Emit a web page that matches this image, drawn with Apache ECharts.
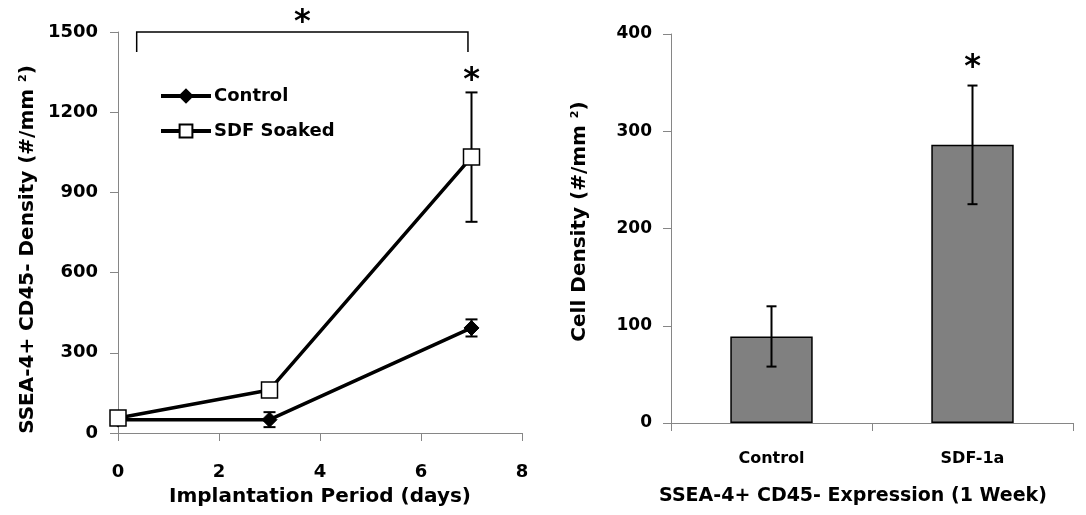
<!DOCTYPE html>
<html>
<head>
<meta charset="utf-8">
<script src="https://cdn.jsdelivr.net/npm/echarts@6/dist/echarts.min.js"></script>
<style>
  html, body { margin: 0; padding: 0; background: #fff; }
  #chart { width: 1086px; height: 515px; }
</style>
</head>
<body>
<div id="chart"></div>
<script>
// Time course: SSEA-4+ CD45- cell density by implantation period
const days = [0, 3, 7];
const controlMean = [50, 50, 393];
const controlErr = [15, 28, 32];
const sdfMean = [56, 161, 1032];
const sdfErr = [10, 12, 242];

// Significance bracket spanning the time course (x from/to, y low/high)
const bracketX = [0.37, 6.93];
const bracketY = [1425, 1500];

// One-week comparison
const groups = ['Control', 'SDF-1a'];
const weekMean = [89, 286];
const weekErr = [31, 61];

const FONT = 'DejaVu Sans';
const AXIS_GRAY = '#868686';

function errorBars(capHalf, lineWidth) {
  return function (params, api) {
    const x = api.value(0), mean = api.value(1), err = api.value(2);
    const top = api.coord([x, mean + err]);
    const bot = api.coord([x, mean - err]);
    const style = { stroke: '#000', lineWidth: lineWidth };
    return {
      type: 'group',
      children: [
        { type: 'line', shape: { x1: top[0], y1: top[1], x2: bot[0], y2: bot[1] }, style: style },
        { type: 'line', shape: { x1: top[0] - capHalf, y1: top[1], x2: top[0] + capHalf, y2: top[1] }, style: style },
        { type: 'line', shape: { x1: bot[0] - capHalf, y1: bot[1], x2: bot[0] + capHalf, y2: bot[1] }, style: style }
      ]
    };
  };
}

function starMark(offsetY) {
  return function (params, api) {
    const p = api.coord([api.value(0), api.value(1)]);
    return {
      type: 'text',
      x: p[0],
      y: p[1] + offsetY,
      style: {
        text: '*', fill: '#000', fontFamily: FONT, fontWeight: 'bold', fontSize: 32,
        align: 'center', verticalAlign: 'middle'
      }
    };
  };
}

const plain = (v) => String(v);
const tickLabel = (size) => ({ color: '#000', fontFamily: FONT, fontWeight: 'bold', fontSize: size, formatter: plain });
const axisTitle = (size) => ({
  color: '#000', fontFamily: FONT, fontWeight: 'bold', fontSize: size,
  rich: { sup: { color: '#000', fontFamily: FONT, fontWeight: 'bold', fontSize: 11, verticalAlign: 'top' } }
});

const chart = echarts.init(document.getElementById('chart'), null, { renderer: 'canvas' });

chart.setOption({
  animation: false,
  backgroundColor: '#fff',
  grid: [
    { left: 118, top: 32, width: 404, height: 401 },
    { left: 671, top: 34, width: 402, height: 389 }
  ],
  legend: {
    left: 159, top: 87, padding: 0, orient: 'vertical', itemGap: 17,
    itemWidth: 50, itemHeight: 16,
    data: ['Control', 'SDF Soaked'],
    lineStyle: { width: 4 },
    textStyle: { color: '#000', fontFamily: FONT, fontWeight: 'bold', fontSize: 18, padding: [0, 0, 0, -2] }
  },
  xAxis: [
    {
      type: 'value', gridIndex: 0, min: 0, max: 8, interval: 2,
      axisLine: { show: true, lineStyle: { color: AXIS_GRAY, width: 1 } },
      axisTick: { show: true, length: 8, lineStyle: { color: AXIS_GRAY } },
      axisLabel: Object.assign(tickLabel(18), { margin: 30 }),
      splitLine: { show: false },
      name: 'Implantation Period (days)', nameLocation: 'middle', nameGap: 54,
      nameTextStyle: axisTitle(20)
    },
    {
      type: 'category', gridIndex: 1, data: groups,
      axisLine: { show: true, lineStyle: { color: AXIS_GRAY, width: 1 } },
      axisTick: { show: true, length: 8, lineStyle: { color: AXIS_GRAY } },
      axisLabel: { margin: 28, color: '#000', fontFamily: FONT, fontWeight: 'bold', fontSize: 16 },
      name: 'SSEA-4+ CD45- Expression (1 Week)', nameLocation: 'middle', nameGap: 64,
      nameTextStyle: Object.assign(axisTitle(19), { padding: [0, 38, 0, 0] })
    }
  ],
  yAxis: [
    {
      type: 'value', gridIndex: 0, min: 0, max: 1500, interval: 300,
      axisLine: { show: true, lineStyle: { color: AXIS_GRAY, width: 1 } },
      axisTick: { show: true, length: 8, lineStyle: { color: AXIS_GRAY } },
      axisLabel: Object.assign(tickLabel(18), { margin: 20 }),
      splitLine: { show: false },
      name: 'SSEA-4+ CD45- Density (#/mm {sup|2})', nameLocation: 'middle', nameGap: 80,
      nameTextStyle: Object.assign(axisTitle(20), { padding: [0, 34, 0, 0] })
    },
    {
      type: 'value', gridIndex: 1, min: 0, max: 400, interval: 100,
      axisLine: { show: true, lineStyle: { color: AXIS_GRAY, width: 1 } },
      axisTick: { show: true, length: 8, lineStyle: { color: AXIS_GRAY } },
      axisLabel: Object.assign(tickLabel(17), { margin: 19 }),
      splitLine: { show: false },
      name: 'Cell Density (#/mm {sup|2})', nameLocation: 'middle', nameGap: 81,
      nameTextStyle: Object.assign(axisTitle(20), { padding: [0, 0, 0, 14] })
    }
  ],
  series: [
    {
      type: 'custom', name: 'controlErr', xAxisIndex: 0, yAxisIndex: 0, z: 1,
      renderItem: errorBars(6, 2),
      data: days.map((d, i) => [d, controlMean[i], controlErr[i]])
    },
    {
      type: 'custom', name: 'sdfErr', xAxisIndex: 0, yAxisIndex: 0, z: 1,
      renderItem: errorBars(6, 2),
      data: days.map((d, i) => [d, sdfMean[i], sdfErr[i]])
    },
    {
      type: 'line', name: 'Control', xAxisIndex: 0, yAxisIndex: 0, z: 3,
      data: days.map((d, i) => [d, controlMean[i]]),
      symbol: 'diamond', symbolSize: 15,
      lineStyle: { color: '#000', width: 3.5 },
      itemStyle: { color: '#000', borderColor: '#000', borderWidth: 1 }
    },
    {
      type: 'line', name: 'SDF Soaked', xAxisIndex: 0, yAxisIndex: 0, z: 4,
      data: days.map((d, i) => [d, sdfMean[i]]),
      symbol: 'rect', symbolSize: 16,
      lineStyle: { color: '#000', width: 3.5 },
      itemStyle: { color: '#fff', borderColor: '#000', borderWidth: 1.5 }
    },
    {
      type: 'custom', name: 'bracket', xAxisIndex: 0, yAxisIndex: 0, z: 2,
      renderItem: function (params, api) {
        const a = api.coord([api.value(0), api.value(2)]);
        const b = api.coord([api.value(0), api.value(3)]);
        const c = api.coord([api.value(1), api.value(3)]);
        const d = api.coord([api.value(1), api.value(2)]);
        return {
          type: 'polyline',
          shape: { points: [a, b, c, d] },
          style: { stroke: '#000', lineWidth: 1.5, fill: null }
        };
      },
      data: [[bracketX[0], bracketX[1], bracketY[0], bracketY[1]]]
    },
    {
      type: 'custom', name: 'starTop', xAxisIndex: 0, yAxisIndex: 0, z: 5,
      renderItem: starMark(-9),
      data: [[(bracketX[0] + bracketX[1]) / 2, bracketY[1]]]
    },
    {
      type: 'custom', name: 'starDay7', xAxisIndex: 0, yAxisIndex: 0, z: 5,
      renderItem: starMark(-12),
      data: [[days[2], sdfMean[2] + sdfErr[2]]]
    },
    {
      type: 'bar', name: 'week', xAxisIndex: 1, yAxisIndex: 1, z: 2,
      data: weekMean, barWidth: '41%',
      itemStyle: { color: '#808080', borderColor: '#000', borderWidth: 1.5 }
    },
    {
      type: 'custom', name: 'weekErr', xAxisIndex: 1, yAxisIndex: 1, z: 3,
      renderItem: errorBars(5, 2),
      data: groups.map((g, i) => [i, weekMean[i], weekErr[i]])
    },
    {
      type: 'custom', name: 'weekStar', xAxisIndex: 1, yAxisIndex: 1, z: 5,
      renderItem: starMark(-18),
      data: [[1, weekMean[1] + weekErr[1]]]
    }
  ]
});
</script>
</body>
</html>
